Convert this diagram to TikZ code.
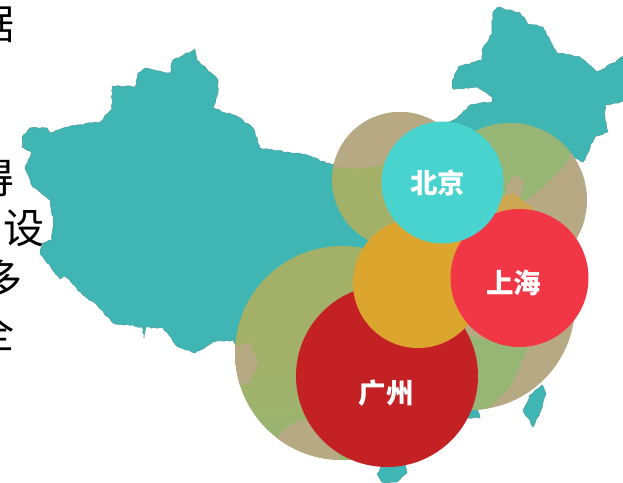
\documentclass[tikz,border=0pt]{standalone}
\usepackage{fontspec}
\newfontfamily\cjk{Noto Sans CJK SC}
\usetikzlibrary{decorations.pathmorphing}
\definecolor{teal1}{HTML}{3FB6B4}
\definecolor{tealedge}{HTML}{4C9C9C}
\definecolor{olive1}{HTML}{A3B068}
\definecolor{green1}{HTML}{97B574}
\definecolor{beige1}{HTML}{B8A985}
\definecolor{amber1}{HTML}{DCA52E}
\definecolor{aqua1}{HTML}{48D3CF}
\definecolor{red1}{HTML}{F13646}
\definecolor{red2}{HTML}{C42125}
\definecolor{gold1}{HTML}{CDA850}
\pgfmathsetseed{7}
\tikzset{
  land/.style={fill=teal1,draw=tealedge,line width=.5pt,decorate,decoration={random steps,segment length=3pt,amplitude=.8pt}},
  city/.style={font=\cjk\bfseries\fontsize{27.5}{27.5}\selectfont,text=white,inner sep=0pt},
  sidetext/.style={font=\cjk\fontsize{41}{41}\selectfont,text=black,inner sep=0pt}
}
\begin{document}
\begin{tikzpicture}[x=1pt,y=-1pt]
\useasboundingbox (0,0) rectangle (623,482);
\clip (0,0) rectangle (623,482);
% mainland
\path[land] (22,137) -- (30,128) -- (47,128) -- (50,133) -- (58,130) -- (77,125) -- (100,122) -- (112,109) -- (112,86) -- (135,87) -- (138,73) -- (145,68) -- (170,73) -- (173,60) -- (195,49) -- (197,60) -- (218,80) -- (218,93) -- (213,108) -- (238,117) -- (253,128) -- (260,148) -- (307,155) -- (332,165) -- (400,150) -- (457,118) -- (470,105) -- (492,102) -- (492,97) -- (477,87) -- (453,89) -- (452,83) -- (458,67) -- (482,60) -- (482,50) -- (492,33) -- (493,12) -- (498,7) -- (520,13) -- (528,24) -- (543,27) -- (557,53) -- (580,57) -- (597,72) -- (613,63) -- (630,52) -- (630,100) -- (605,105) -- (605,117) -- (608,132) -- (595,137) -- (583,162) -- (567,155) -- (540,230) -- (520,350) -- (477,408) -- (480,418) -- (467,418) -- (440,400) -- (400,420) -- (300,410) -- (262,415) -- (248,395) -- (240,380) -- (236,345) -- (233,340) -- (213,342) -- (195,353) -- (178,347) -- (163,328) -- (146,327) -- (144,338) -- (142,327) -- (113,323) -- (95,303) -- (83,295) -- (65,276) -- (60,279) -- (40,253) -- (43,243) -- (52,240) -- (53,220) -- (50,200) -- (33,187) -- (25,168) -- (32,153) -- (22,147) -- cycle;
% islands
\path[land] (542,385) -- (546,393) -- (541,410) -- (533,427) -- (527,417) -- (523,410) -- (530,395) -- cycle;
\path[land] (381,467) -- (405,464) -- (407,473) -- (397,482) -- (382,482) -- (377,474) -- cycle;
% upper-left circle
\begin{scope}
\clip (400,180) circle[radius=68];
\fill[olive1] (320,100) rectangle (480,260);
\fill[beige1] (320,100) -- (480,100) -- (480,164) -- (385,164) -- (360,169) -- (332,167) -- (320,167) -- cycle;
\end{scope}
% lower-right circle
\begin{scope}
\clip (470,305) circle[radius=105];
\fill[beige1] (440,280) rectangle (600,430);
\fill[green1] (440,330) -- (528,348) -- (520,367) -- (510,387) -- (495,402) -- (483,412) -- (440,420) -- cycle;
\end{scope}
% upper-right circle
\begin{scope}
\clip (510,200) circle[radius=77];
\fill[beige1] (430,110) rectangle (600,290);
\fill[green1] (430,110) -- (590,110) -- (567,163) -- (550,180) -- (540,190) -- (527,200) -- (500,210) -- (430,210) -- cycle;
\fill[beige1] (505,197) -- (508,182) -- (516,175) -- (523,180) -- (522,197) -- cycle;
\fill[gold1] (500,198) -- (513,193) -- (533,208) -- (532,225) -- (495,225) -- cycle;
\end{scope}
% left big circle
\begin{scope}
\clip (342,353) circle[radius=107];
\shade[top color=olive1,bottom color=green1,middle color=olive1] (220,240) rectangle (460,465);
\fill[beige1] (225,347) -- (235,347) -- (250,342) -- (258,363) -- (250,380) -- (243,385) -- (225,385) -- cycle;
\fill[beige1] (270,445) -- (287,427) -- (300,420) -- (325,425) -- (345,470) -- (280,470) -- cycle;
\end{scope}
% city circles
\fill[red2] (387,376) circle[radius=91];
\fill[amber1] (418,283) circle[radius=65];
\fill[red1] (519.5,278) circle[radius=69];
\fill[aqua1] (442.5,182.5) circle[radius=61];
\node[city] (bj) at (437.5,183) {北京};
\node[city] (sh) at (513.5,283) {上海};
\node[city] (gz) at (386,393) {广州};
% cropped side text
\node[sidetext] (t1) at (-6.5,24) {据};
\node[sidetext] (t2) at (-6.5,178) {得};
\node[sidetext] (t3) at (23.5,228) {设};
\node[sidetext] (t4) at (2,279) {多};
\node[sidetext] (t5) at (-6.5,332) {全};
\end{tikzpicture}
\end{document}
